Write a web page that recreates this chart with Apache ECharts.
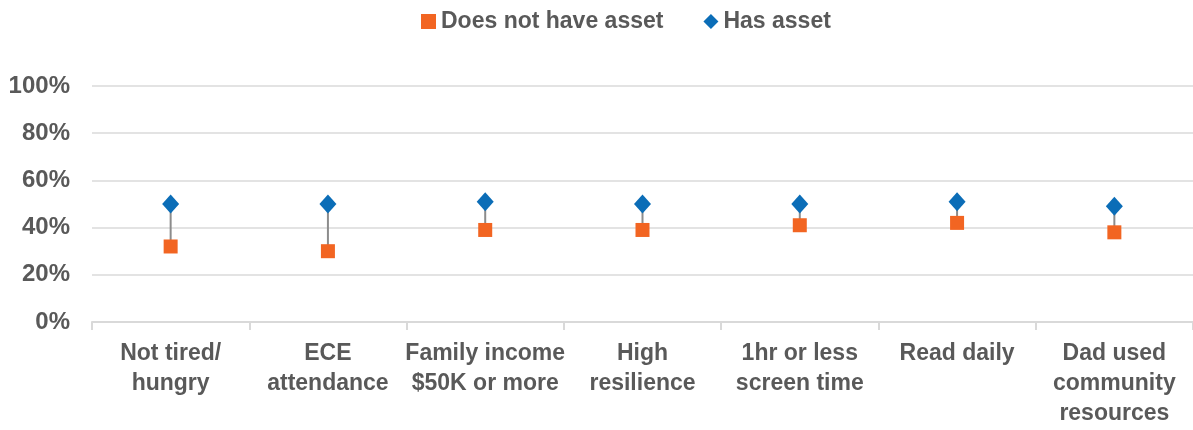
<!DOCTYPE html>
<html>
<head>
<meta charset="utf-8">
<script src="https://cdn.jsdelivr.net/npm/echarts@6/dist/echarts.min.js"></script>
<style>
    html, body { margin: 0; padding: 0; background: #fff; }
    #chart { width: 1193px; height: 430px; }
</style>
</head>
<body>
<div id="chart"></div>
<script>
    // 数据
    var categories = ['Not tired/\nhungry', 'ECE\nattendance', 'Family income\n$50K or more', 'High\nresilience', '1hr or less\nscreen time', 'Read daily', 'Dad used\ncommunity\nresources'];
    var noAsset = [32, 30, 39, 39, 41, 42, 38];
    var hasAsset = [50, 50, 51, 50, 50, 51, 49];
    var yTicks = [0, 20, 40, 60, 80, 100];

    var chart = echarts.init(document.getElementById('chart'));
    var labelColor = '#595959';

    var option = {
        animation: false,
        legend: {
            top: 5,
            left: 416,
            itemGap: 40,
            itemWidth: 15,
            itemHeight: 15,
            textStyle: { color: labelColor, fontSize: 23, fontWeight: 'bold', fontFamily: 'Liberation Sans' },
            data: [
                { name: 'Does not have asset', icon: 'rect' },
                { name: 'Has asset', icon: 'diamond' }
            ]
        },
        grid: { left: 92, top: 86, right: 0, bottom: 108 },
        xAxis: {
            type: 'category',
            data: categories,
            axisLine: { lineStyle: { color: '#d9d9d9', width: 2 } },
            axisTick: { show: true, length: 8, lineStyle: { color: '#d9d9d9', width: 2 } },
            axisLabel: {
                color: labelColor, fontSize: 23, fontWeight: 'bold', fontFamily: 'Liberation Sans',
                lineHeight: 30, margin: 17, interval: 0
            }
        },
        yAxis: {
            type: 'value',
            min: yTicks[0],
            max: yTicks[yTicks.length - 1],
            interval: 20,
            axisLine: { show: false },
            axisTick: { show: false },
            splitLine: { lineStyle: { color: '#e3e3e3', width: 2 } },
            axisLabel: {
                color: labelColor, fontSize: 24, fontWeight: 'bold', fontFamily: 'Liberation Sans',
                margin: 22, formatter: '{value}%'
            }
        },
        series: [
            {
                // 连接线
                name: 'link',
                type: 'custom',
                silent: true,
                z: 1,
                data: categories.map(function (c, i) { return [i, noAsset[i], hasAsset[i]]; }),
                renderItem: function (params, api) {
                    var p1 = api.coord([api.value(0), api.value(1)]);
                    var p2 = api.coord([api.value(0), api.value(2)]);
                    return {
                        type: 'line',
                        shape: { x1: p1[0], y1: p1[1], x2: p2[0], y2: p2[1] },
                        style: { stroke: '#8c8c8c', lineWidth: 2 }
                    };
                }
            },
            {
                name: 'Does not have asset',
                type: 'scatter',
                symbol: 'rect',
                symbolSize: 14,
                z: 3,
                itemStyle: { color: '#f26522', opacity: 1 },
                data: noAsset
            },
            {
                name: 'Has asset',
                type: 'scatter',
                symbol: 'diamond',
                symbolSize: [17, 19],
                z: 3,
                itemStyle: { color: '#0b6db7', opacity: 1 },
                data: hasAsset
            }
        ]
    };

    chart.setOption(option);
</script>
</body>
</html>
